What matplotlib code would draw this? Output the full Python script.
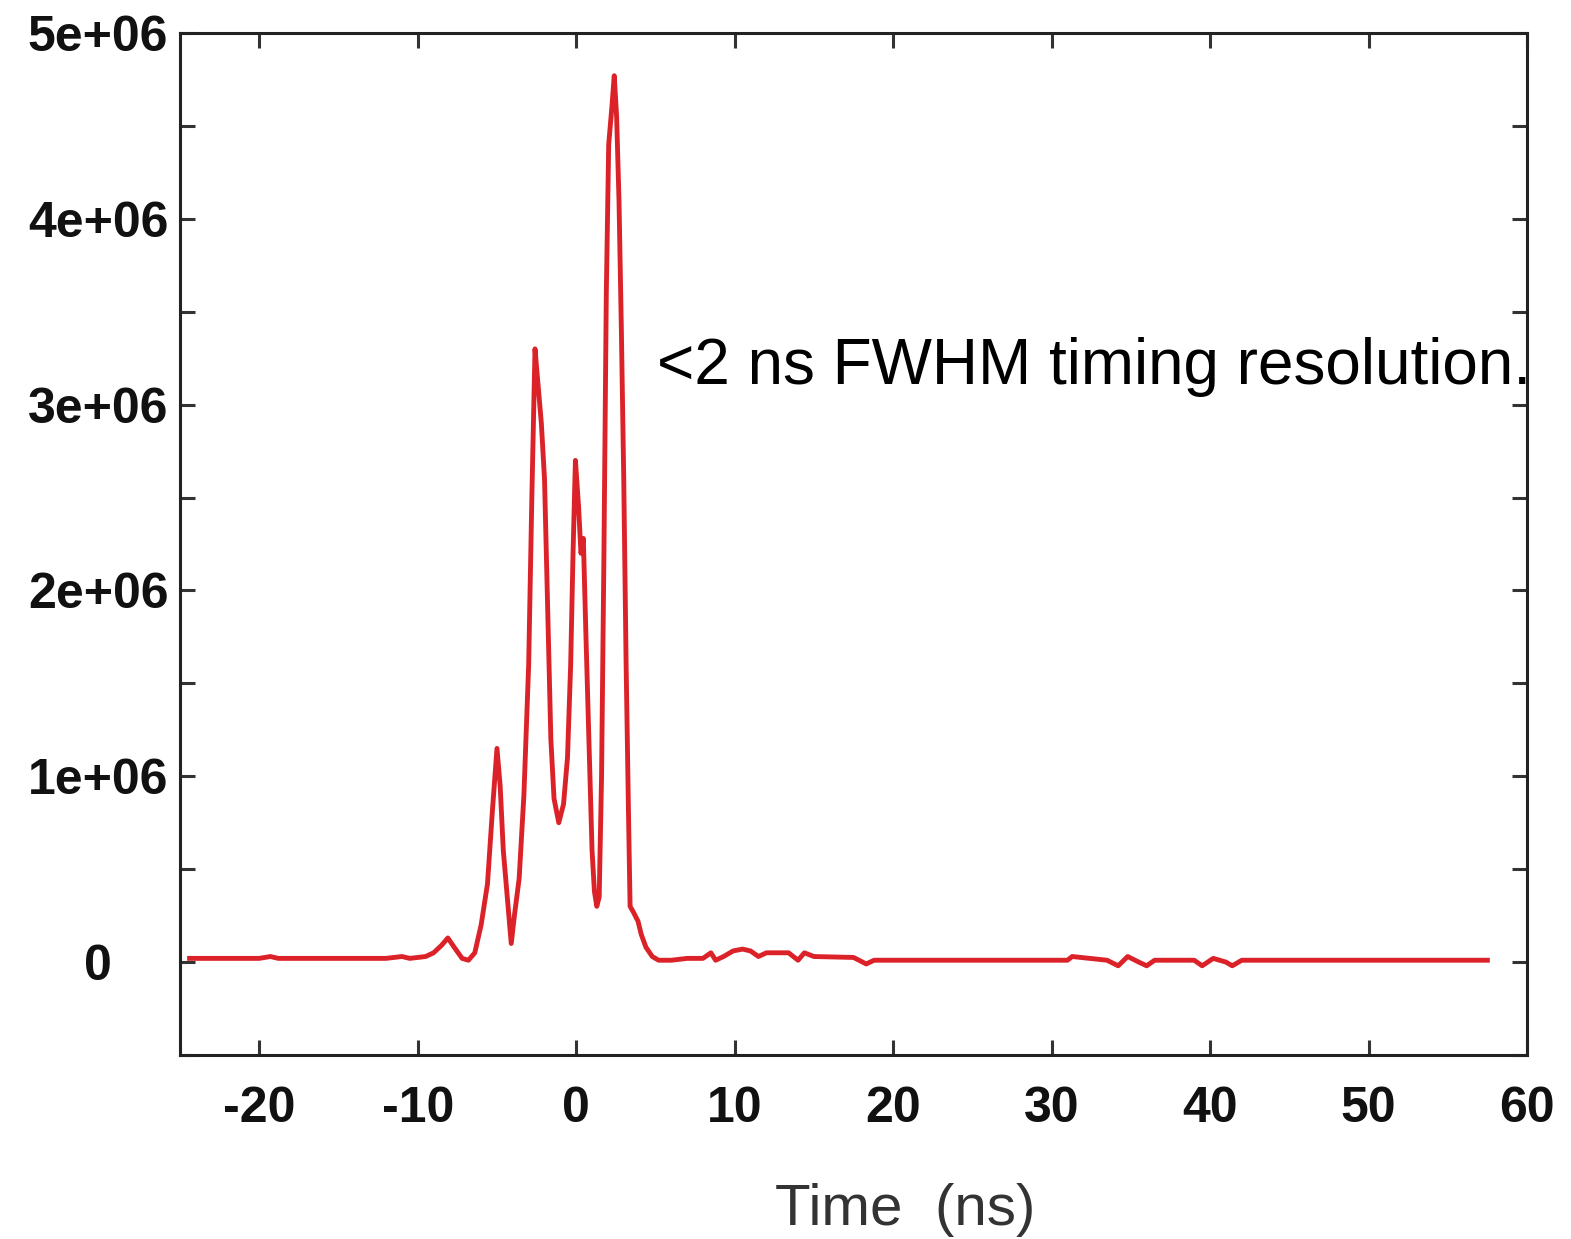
import matplotlib
matplotlib.use("Agg")
import matplotlib.pyplot as plt
from matplotlib.ticker import MultipleLocator

# Data (time in ns, counts in units of 1e6)
time_ns = [-24.4, -20, -19.3, -18.8, -12, -11, -10.5, -9.5, -9.0, -8.5, -8.1, -7.7, -7.2, -6.8,
           -6.4, -6.0, -5.6, -5.3, -5.0, -4.8, -4.6, -4.3, -4.1, -3.9, -3.6, -3.3, -3.0, -2.8,
           -2.6, -2.4, -2.2, -2.0, -1.8, -1.6, -1.4, -1.1, -0.8, -0.55, -0.35, -0.2, -0.05,
           0.15, 0.3, 0.45, 0.6, 0.8, 1.0, 1.15, 1.3, 1.45, 1.6, 1.75, 1.9, 2.05, 2.25, 2.4,
           2.55, 2.7, 2.85, 3.0, 3.15, 3.3, 3.4, 3.6, 3.9, 4.1, 4.4, 4.8, 5.2, 6.0, 7.0, 8.0,
           8.5, 8.8, 9.3, 9.9, 10.5, 11.0, 11.5, 12.0, 13.4, 14.0, 14.4, 15.0, 17.5, 18.3,
           18.8, 31.0, 31.3, 33.5, 34.2, 34.8, 35.5, 36.0, 36.5, 39.0, 39.5, 40.2, 41.0, 41.4,
           42.0, 57.5]
counts_1e6 = [0.02, 0.02, 0.03, 0.02, 0.02, 0.03, 0.02, 0.03, 0.05, 0.09, 0.13, 0.08, 0.02, 0.01,
              0.05, 0.2, 0.42, 0.8, 1.15, 0.95, 0.6, 0.3, 0.1, 0.25, 0.45, 0.9, 1.6, 2.5,
              3.3, 3.1, 2.9, 2.6, 1.9, 1.2, 0.88, 0.75, 0.85, 1.1, 1.6, 2.2, 2.7,
              2.45, 2.2, 2.28, 1.8, 1.2, 0.6, 0.38, 0.3, 0.35, 1.0, 2.2, 3.6, 4.4, 4.6, 4.77,
              4.55, 4.1, 3.4, 2.6, 1.6, 0.8, 0.3, 0.27, 0.22, 0.15, 0.08, 0.03, 0.01, 0.01, 0.02, 0.02,
              0.05, 0.01, 0.03, 0.06, 0.07, 0.06, 0.03, 0.05, 0.05, 0.01, 0.05, 0.03, 0.025, -0.01,
              0.01, 0.01, 0.03, 0.01, -0.02, 0.03, 0.0, -0.02, 0.01, 0.01, -0.02, 0.02, 0.0, -0.02,
              0.01, 0.01]
counts = [c * 1e6 for c in counts_1e6]

x_ticks = [-20, -10, 0, 10, 20, 30, 40, 50, 60]
y_ticks = [0, 1e6, 2e6, 3e6, 4e6, 5e6]
y_tick_labels = ["0", "1e+06", "2e+06", "3e+06", "4e+06", "5e+06"]

plt.rcParams['font.family'] = ['Liberation Sans', 'DejaVu Sans']

fig = plt.figure(figsize=(15.71, 12.39), dpi=100)
ax = fig.add_axes([0.1146, 0.1485, 0.972 - 0.1146, 0.9734 - 0.1485])

ax.plot(time_ns, counts, color="#dc2229", lw=3.5, solid_joinstyle="round")

ax.set_xlim(-25, 60)
ax.set_ylim(-0.5e6, 5e6)
ax.set_xticks(x_ticks)
ax.set_xticklabels([str(v) for v in x_ticks])
ax.set_yticks(y_ticks)
ax.set_yticklabels(y_tick_labels)
ax.yaxis.set_minor_locator(MultipleLocator(0.5e6))

for lab in ax.get_xticklabels() + ax.get_yticklabels():
    lab.set_fontweight("bold")
    lab.set_fontsize(36)
    lab.set_color("#111111")
for lab in ax.get_yticklabels():
    lab.set_horizontalalignment("center")

ax.tick_params(axis="both", which="both", direction="in", top=True, right=True,
               color="#333333", width=2.2)
ax.tick_params(axis="both", which="major", length=11)
ax.tick_params(axis="y", which="minor", length=11)
ax.tick_params(axis="x", pad=22)
ax.tick_params(axis="y", pad=59)

for sp in ax.spines.values():
    sp.set_color("#222222")
    sp.set_linewidth(2.2)

ax.set_xlabel("Time  (ns)", fontsize=42, color="#333333")
ax.xaxis.set_label_coords(0.538, -0.125)

ax.text(5.1, 3.2e6, "<2 ns FWHM timing resolution.", fontsize=46, color="black",
        ha="left", va="center", clip_on=False)

fig.savefig("out.png", dpi=100)
